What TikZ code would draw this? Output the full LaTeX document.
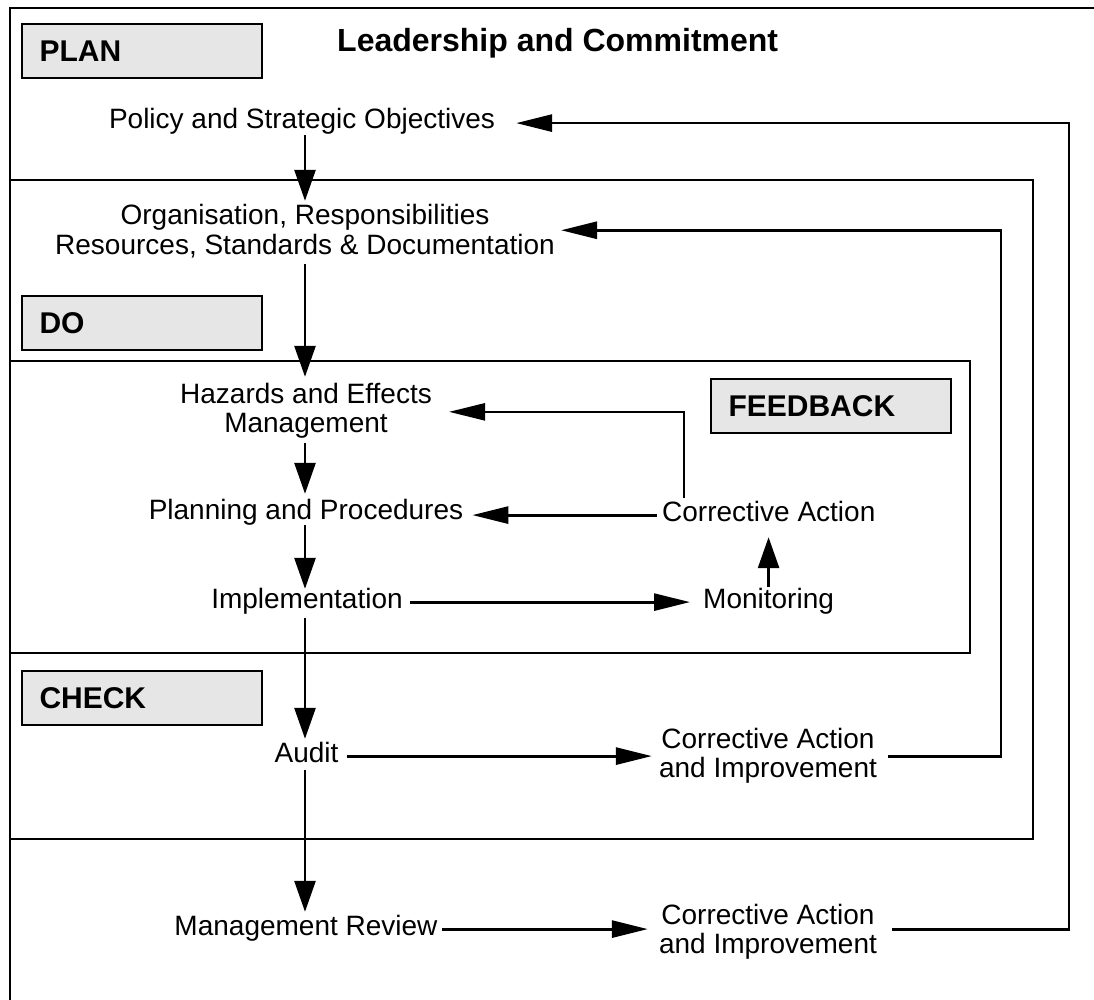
\documentclass[tikz,border=0pt]{standalone}
\usepackage{fontspec}
\setmainfont{Liberation Sans}
\usetikzlibrary{arrows.meta}
\definecolor{phasegray}{HTML}{E6E6E6}
\begin{document}
\begin{tikzpicture}[x=1pt,y=-1pt,
  frame/.style={line width=1.8pt},
  lbl/.style={inner sep=0pt, anchor=base, font=\fontsize{28}{29.5}\selectfont},
  one/.style={text height=20.65pt, text depth=8.85pt},
  phase/.style={draw, line width=1.8pt, fill=phasegray, anchor=north west,
    inner xsep=17.6pt, inner ysep=0pt, text width=204.8pt, minimum height=54pt,
    align=left, text height=21.5pt, text depth=0pt,
    font=\fontsize{30}{32}\selectfont\bfseries},
  flow/.style={line width=2.8pt},
  varr/.style={flow, -{Triangle[length=31pt,width=21pt]}},
  harr/.style={flow, -{Triangle[length=36pt,width=17pt]}},
]
\useasboundingbox (0,0) rectangle (1094,1000);

% nested frames
\draw[frame] (10,1000) -- (10,8) -- (1094,8);
\draw[frame] (10,180) rectangle (1033,839);
\draw[frame] (10,361) rectangle (970,653);

% phase tags
\node[phase] (plan)  at (21,23)   {PLAN};
\node[phase] (do)    at (21,295)  {DO};
\node[phase] (check) at (21,670)  {CHECK};
\node[phase] (fb)    at (710,378) {FEEDBACK};

\node[lbl, anchor=base west, font=\fontsize{32}{34}\selectfont\bfseries] (lead) at (337,52) {Leadership and Commitment};

% main column
\node[lbl,one] (pol) at (302,129) {Policy and Strategic Objectives};
\node[lbl] (org) at (305,225) {\begin{tabular}[t]{@{}c@{}}Organisation, Responsibilities\\Resources, Standards \& Documentation\end{tabular}};
\node[lbl] (haz) at (306,403) {\begin{tabular}[t]{@{}c@{}}Hazards and Effects\\Management\end{tabular}};
\node[lbl,one] (pln) at (306,519) {Planning and Procedures};
\node[lbl,one] (imp) at (307,608) {Implementation};
\node[lbl,one] (aud) at (306.5,762) {Audit};
\node[lbl,one] (mr)  at (306,935) {Management Review};

% right column
\node[lbl,one,anchor=base west] (ca)  at (662,521) {Corrective Action};
\node[lbl,one,anchor=base west] (mon) at (703,608) {Monitoring};
\node[lbl] (cai1) at (768,748) {\begin{tabular}[t]{@{}c@{}}Corrective Action\\and Improvement\end{tabular}};
\node[lbl] (cai2) at (768,924) {\begin{tabular}[t]{@{}c@{}}Corrective Action\\and Improvement\end{tabular}};

% routing helpers
\coordinate (spine) at (305,0);
\coordinate (r1) at (1001,0);
\coordinate (r2) at (1069,0);
\coordinate (orgin) at ([yshift=3.6pt]org.east);

% downward spine
\draw[varr, shorten <=-2.85pt, shorten >=3.35pt] (pol.south -| spine) -- (org.north -| spine);
\draw[varr, shorten >=5.35pt] (org.south -| spine) -- (haz.north -| spine);
\draw[varr, shorten <=1.65pt, shorten >=4.35pt] (haz.south -| spine) -- (pln.north -| spine);
\draw[varr, shorten <=-2.85pt, shorten >=-1.65pt] (pln.south -| spine) -- (imp.north -| spine);
\draw[varr, shorten <=1.15pt, shorten >=2.35pt] (imp.south -| spine) -- (aud.north -| spine);
\draw[varr, shorten <=-0.85pt, shorten >=2.35pt] (aud.south -| spine) -- (mr.north -| spine);

% feedback loop
\draw[harr, shorten <=7.3pt, shorten >=13pt] (imp.east) -- (mon.west);
\draw[varr, shorten >=7.15pt] (mon.north) -- (mon.north |- ca.south);
\draw[harr, shorten <=5pt, shorten >=9pt] (ca.west) -- (ca.west -| pln.east);
\draw[harr, line width=2.4pt, shorten <=2.35pt, shorten >=17pt] ([xshift=22pt]ca.north west) |- (haz.east);

% audit and review loops
\draw[harr, shorten <=8.6pt, shorten >=7pt] (aud.east) -- (aud.east -| cai1.west);
\draw[harr, shorten <=11pt, shorten >=6pt] (aud.east -| cai1.east) -| (orgin -| r1) -- (orgin);
\draw[harr, shorten <=4.5pt, shorten >=11pt] (mr.east) -- (mr.east -| cai2.west);
\draw[harr, shorten <=15pt, shorten >=21pt] (mr.east -| cai2.east) -| (pol.east -| r2) -- (pol.east);
\end{tikzpicture}
\end{document}
